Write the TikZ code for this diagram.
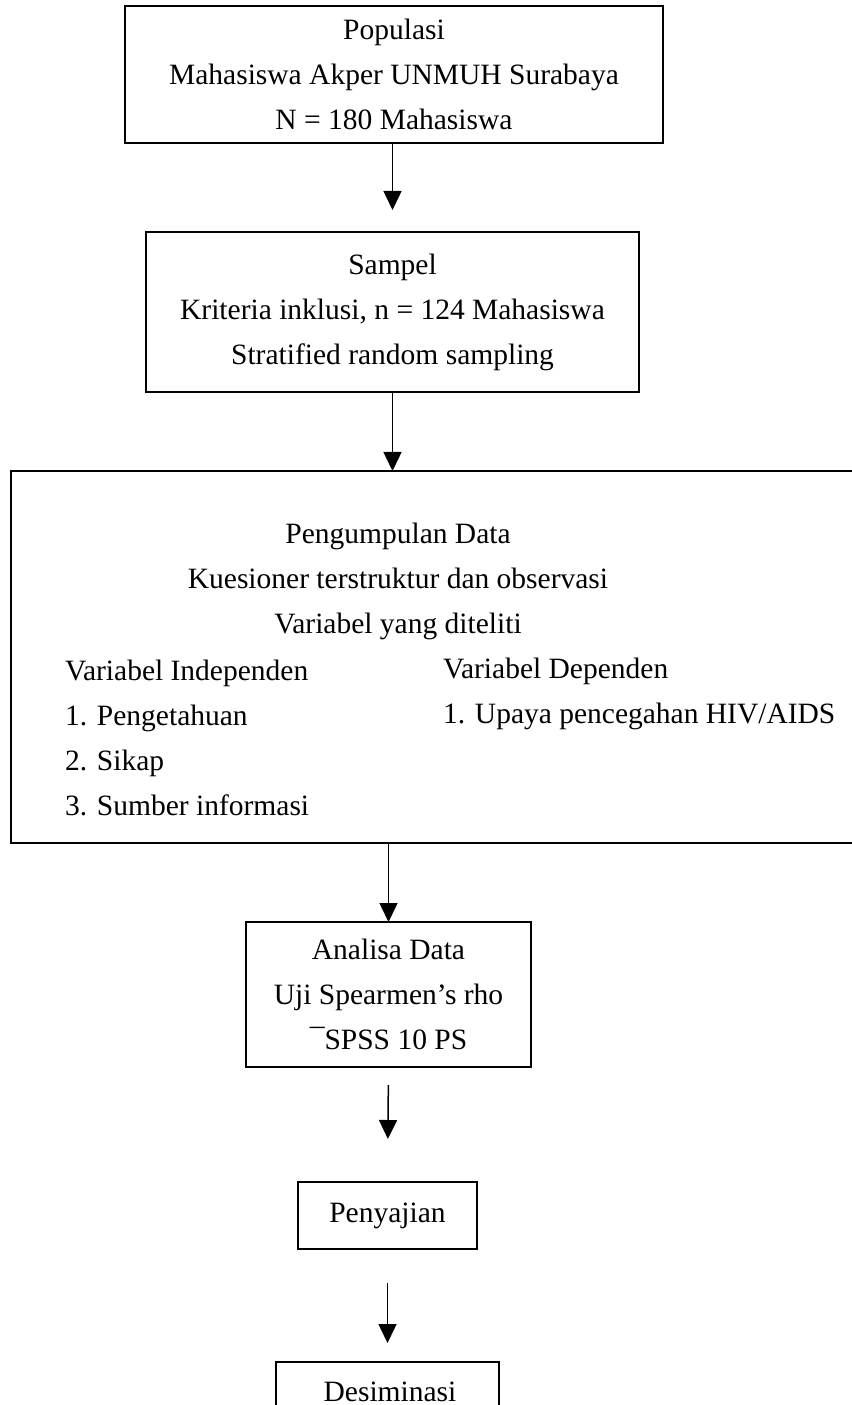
\documentclass[tikz,border=0pt]{standalone}
\usepackage{fontspec}
\setmainfont{Liberation Serif}
\usetikzlibrary{arrows.meta,calc,positioning}
\tikzset{
	flow diagram/.style={
		x=0.4pt, y=-0.4pt,
		font=\fontsize{11.8}{18}\selectfont,
		every node/.style={inner sep=0pt, outer sep=0pt},
		ar/.style={-{Triangle[length=7.6pt,width=7.2pt]}, line width=0.6pt},
		txt/.style={align=left, anchor=west}
		},
	bx/.style 2 args={draw, rectangle, line width=0.8pt, align=center,
		minimum width=#1, minimum height=#2}
}

\begin{document}
\begin{tikzpicture}[flow diagram]
   \useasboundingbox (0,0) rectangle (852,1405);
   \node[bx={215.2pt}{54.8pt}] (pop) at (394,74.5)
      {Populasi\\Mahasiswa Akper UNMUH Surabaya\\N = 180 Mahasiswa};
   \node[bx={197.2pt}{64pt}] (samp) at (392.5,312)
      {Sampel\\Kriteria inklusi, n = 124 Mahasiswa\\Stratified random sampling};
   \node[bx={338.8pt}{148.8pt}] (data) at (434.5,657) {};
   \node[align=center] (data head) at (398,581)
      {Pengumpulan Data\\Kuesioner terstruktur dan observasi\\Variabel yang diteliti};
   \node[txt] (indep) at (65,737.5)
      {Variabel Independen\\1. Pengetahuan\\2. Sikap\\3. Sumber informasi};
   \node[txt] (dep) at (443,694)
      {Variabel Dependen\\1. Upaya pencegahan HIV/AIDS};
   \node[bx={114pt}{58pt}] (analisa) at (388.5,994.5)
      {Analisa Data\\Uji Spearmen’s rho\\¯SPSS 10 PS};
   \node[bx={71.6pt}{26.8pt}] (saji) at (387.5,1215.5) {Penyajian};
   \node[bx={89.2pt}{25.2pt}] (desi) at (387.5,1393.5) {};
   \node (desi text) at (390,1392) {Desiminasi};
   \draw[ar, shorten >=8.8pt] (samp.north |- pop.south) -- (samp.north);
   \draw[ar] (samp.south) -- (samp.south |- data.north);
   \draw[ar] (analisa.north |- data.south) -- (analisa.north);
   \draw[ar, shorten <=7.2pt, shorten >=17.2pt] (analisa.south) -- (saji.north);
   \draw[ar, shorten <=13.6pt, shorten >=7.6pt] (saji.south) -- (desi.north);
\end{tikzpicture}
\end{document}
